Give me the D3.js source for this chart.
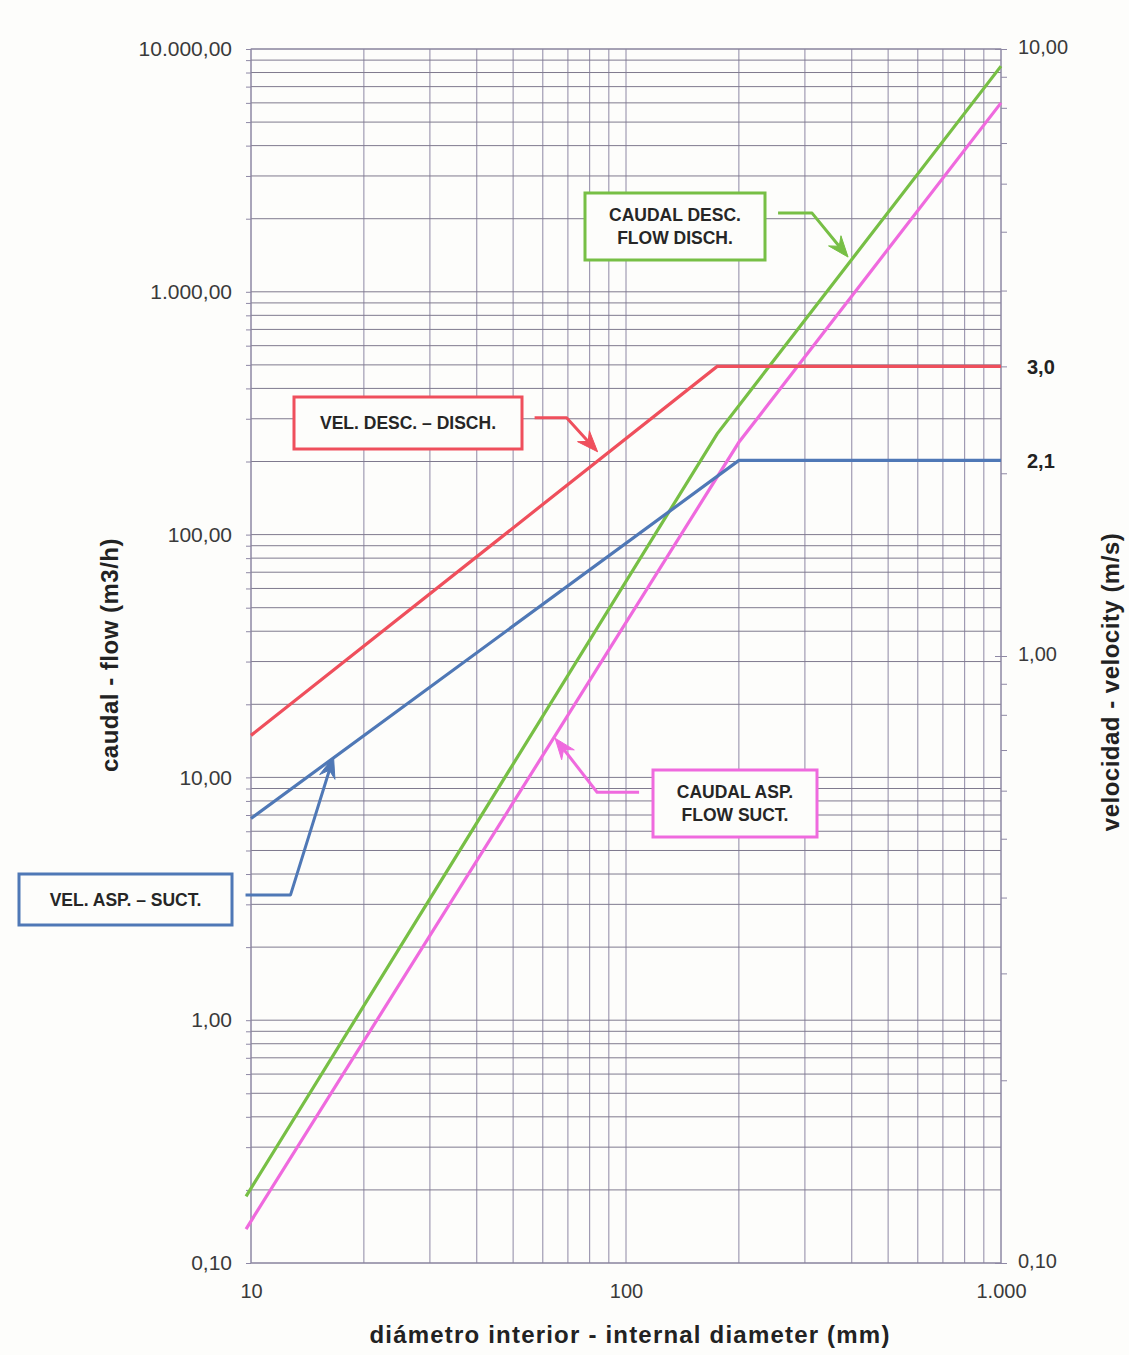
<!DOCTYPE html>
<html><head><meta charset="utf-8">
<script src="https://cdn.jsdelivr.net/npm/d3@7"></script>
<style>
body{margin:0;background:#fdfdfb;}
svg{display:block;font-family:"Liberation Sans",Arial,sans-serif;}
</style>
</head><body>
<svg id="c" width="1129" height="1355"></svg>
<script>
// ---- tick labels ----
const diamTicks = [10, 100, 1000];
const diamTickLabels = ["10", "100", "1.000"];
const flowTicks = [0.1, 1, 10, 100, 1000, 10000];
const flowTickLabels = ["0,10", "1,00", "10,00", "100,00", "1.000,00", "10.000,00"];
const velTicks = [0.1, 1, 10];
const velTickLabels = ["0,10", "1,00", "10,00"];
const velMarks = [3.0, 2.1];
const velMarkLabels = ["3,0", "2,1"];

// ---- series (diameter mm -> velocity m/s or flow m3/h) ----
const velDischD = [10, 175, 1000];
const velDischV = [0.74, 3.0, 3.0];
const velSuctD = [10, 200, 1000];
const velSuctV = [0.54, 2.1, 2.1];
const flowDischD = [9.7, 175, 1000];
const flowDischQ = [0.188, 260, 8500];
const flowSuctD = [9.7, 200, 1000];
const flowSuctQ = [0.138, 240, 6000];

// ---- annotation labels (tip points in data coordinates) ----
const annotTexts = [["CAUDAL DESC.", "FLOW DISCH."], ["VEL. DESC. – DISCH."], ["VEL. ASP. – SUCT."], ["CAUDAL ASP.", "FLOW SUCT."]];
const annotTipD = [391, 84, 16.6, 64.7];
const annotTipVal = [1390, 2.17, 0.682, 14.5];
const annotAxis = ["flow", "vel", "vel", "flow"];

const svg = d3.select("#c");
const L = 251, R = 1001, T = 49, B = 1263;
const x = d3.scaleLog().domain([10, 1000]).range([L, R]);
const yL = d3.scaleLog().domain([0.1, 10000]).range([B, T]);
const yR = d3.scaleLog().domain([0.1, 10]).range([B, T]);

function logSteps(lo, hi) {
  const out = [];
  for (let e = Math.floor(Math.log10(lo)); e <= Math.ceil(Math.log10(hi)); e++) {
    for (let m = 1; m <= 9; m++) {
      const v = +(m * Math.pow(10, e)).toPrecision(6);
      if (v >= lo - 1e-9 && v <= hi + 1e-9) out.push(v);
    }
  }
  return out;
}

const gridC = "#8e88a4";
const g = svg.append("g");

g.append("rect").attr("x", 0).attr("y", 0).attr("width", 1129).attr("height", 1355).attr("fill", "#fdfdfb");

// vertical grid
g.append("g").selectAll("line").data(logSteps(10, 1000)).join("line")
  .attr("x1", d => x(d)).attr("x2", d => x(d))
  .attr("y1", T).attr("y2", B)
  .attr("stroke", gridC).attr("stroke-width", 1);

// horizontal grid (flow axis)
g.append("g").selectAll("line").data(logSteps(0.1, 10000)).join("line")
  .attr("x1", L).attr("x2", R)
  .attr("y1", d => yL(d)).attr("y2", d => yL(d))
  .attr("stroke", "#7f7a8e").attr("stroke-width", 1);

// left axis
const leftMinor = d3.axisLeft(yL).tickValues(logSteps(0.1, 10000)).tickFormat("").tickSize(5);
const la = g.append("g").attr("transform", `translate(${L},0)`).call(leftMinor);
la.select(".domain").remove();
la.selectAll("line").attr("stroke", gridC);

const leftMajor = d3.axisLeft(yL).tickValues(flowTicks)
  .tickFormat((d, i) => flowTickLabels[i]).tickSize(0).tickPadding(19);
const lm = g.append("g").attr("transform", `translate(${L},0)`).call(leftMajor);
lm.select(".domain").remove();
lm.selectAll("text").attr("font-size", 21).attr("fill", "#3a3a3a").attr("font-family", "Liberation Sans, Arial, sans-serif");

// right axis
const rightMinor = d3.axisRight(yR).tickValues(logSteps(0.1, 10)).tickFormat("").tickSize(6);
const ra = g.append("g").attr("transform", `translate(${R},0)`).call(rightMinor);
ra.select(".domain").remove();
ra.selectAll("line").attr("stroke", gridC);

const rightMajor = d3.axisRight(yR).tickValues(velTicks)
  .tickFormat((d, i) => velTickLabels[i]).tickSizeInner(-6).tickSizeOuter(0).tickPadding(17);
const rm = g.append("g").attr("transform", `translate(${R},0)`).call(rightMajor);
rm.select(".domain").remove();
rm.selectAll("line").attr("stroke", gridC);
rm.selectAll("text").attr("font-size", 20).attr("fill", "#3a3a3a").attr("font-family", "Liberation Sans, Arial, sans-serif").attr("dy", "0.2em");

g.append("g").selectAll("text").data(velMarks).join("text")
  .attr("x", R + 26).attr("y", d => yR(d)).attr("dy", "0.36em")
  .attr("font-size", 20).attr("font-weight", "bold").attr("fill", "#222")
  .text((d, i) => velMarkLabels[i]);

// bottom axis labels
const bottom = d3.axisBottom(x).tickValues(diamTicks)
  .tickFormat((d, i) => diamTickLabels[i]).tickSize(0).tickPadding(21);
const ba = g.append("g").attr("transform", `translate(0,${B})`).call(bottom);
ba.select(".domain").remove();
ba.selectAll("text").attr("font-size", 20).attr("fill", "#3a3a3a").attr("font-family", "Liberation Sans, Arial, sans-serif");

// frame
g.append("rect").attr("x", L).attr("y", T).attr("width", R - L).attr("height", B - T)
  .attr("fill", "none").attr("stroke", gridC).attr("stroke-width", 1);

// titles
g.append("text").attr("x", 630).attr("y", 1343).attr("text-anchor", "middle")
  .attr("font-size", 24).attr("font-weight", "bold").attr("letter-spacing", 1.2).attr("fill", "#222")
  .text("diámetro interior - internal diameter (mm)");
g.append("text").attr("transform", "translate(118,655) rotate(-90)").attr("text-anchor", "middle")
  .attr("font-size", 24).attr("font-weight", "bold").attr("letter-spacing", 0.5).attr("fill", "#222")
  .text("caudal - flow (m3/h)");
g.append("text").attr("transform", "translate(1119,682) rotate(-90)").attr("text-anchor", "middle")
  .attr("font-size", 24).attr("font-weight", "bold").attr("letter-spacing", 0.5).attr("fill", "#222")
  .text("velocidad - velocity (m/s)");

// data lines
const lineV = d3.line().x(d => x(d[0])).y(d => yR(d[1]));
const lineQ = d3.line().x(d => x(d[0])).y(d => yL(d[1]));
const series = [
  { pts: d3.zip(flowDischD, flowDischQ), gen: lineQ, color: "#77bf45" },
  { pts: d3.zip(flowSuctD, flowSuctQ), gen: lineQ, color: "#ef6ade" },
  { pts: d3.zip(velDischD, velDischV), gen: lineV, color: "#ef4f5c" },
  { pts: d3.zip(velSuctD, velSuctV), gen: lineV, color: "#4f78b6" }
];
g.append("g").selectAll("path").data(series).join("path")
  .attr("d", s => s.gen(s.pts)).attr("fill", "none")
  .attr("stroke", s => s.color).attr("stroke-width", 3.2).attr("stroke-linejoin", "miter");

// annotations
const annotColors = ["#77bf45", "#ef4f5c", "#4f78b6", "#ef6ade"];
const annotBoxes = [[585, 193, 180, 67], [294, 397, 228, 52], [19, 874, 213, 51], [653, 770, 164, 67]];
const annotElbow = [[-36, -44], [-31, -34], [-43, 138], [42, 54]];
const annotStart = [[-70, -44], [-63, -34], [-88, 138], [84, 54]];

const ag = g.append("g");
annotTexts.forEach((lines, i) => {
  const c = annotColors[i];
  const tx = x(annotTipD[i]);
  const ty = annotAxis[i] === "flow" ? yL(annotTipVal[i]) : yR(annotTipVal[i]);
  const ex = tx + annotElbow[i][0], ey = ty + annotElbow[i][1];
  const sx = tx + annotStart[i][0], sy = ty + annotStart[i][1];
  const dx = tx - ex, dy = ty - ey, len = Math.hypot(dx, dy);
  const ux = dx / len, uy = dy / len, nx = -uy, ny = ux;
  const HL = 21, HW = 8, notch = 7;
  const bx = tx - HL * ux, by = ty - HL * uy;
  const mx = tx - (HL - notch) * ux, my = ty - (HL - notch) * uy;
  ag.append("path")
    .attr("d", `M${sx},${sy}L${ex},${ey}L${mx},${my}`)
    .attr("fill", "none").attr("stroke", c).attr("stroke-width", 3).attr("stroke-linejoin", "round");
  ag.append("path")
    .attr("d", `M${tx},${ty}L${bx + HW * nx},${by + HW * ny}L${mx},${my}L${bx - HW * nx},${by - HW * ny}Z`)
    .attr("fill", c).attr("stroke", c).attr("stroke-width", 1);
  const b = annotBoxes[i];
  ag.append("rect").attr("x", b[0]).attr("y", b[1]).attr("width", b[2]).attr("height", b[3])
    .attr("fill", "#fdfdfb").attr("stroke", c).attr("stroke-width", 3);
  const cx = b[0] + b[2] / 2, cy = b[1] + b[3] / 2;
  const lh = 23;
  lines.forEach((t, j) => {
    ag.append("text").attr("x", cx).attr("y", cy + (j - (lines.length - 1) / 2) * lh)
      .attr("dy", "0.36em").attr("text-anchor", "middle")
      .attr("font-size", 17.5).attr("font-weight", "bold").attr("fill", "#262626")
      .text(t);
  });
});
</script>
</body></html>
